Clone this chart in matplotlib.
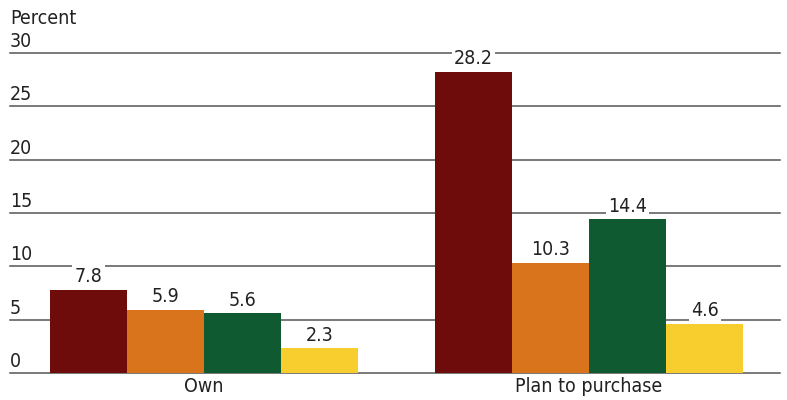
import numpy as np
import matplotlib.pyplot as plt
import matplotlib.transforms as mtransforms

plt.rcParams['font.family'] = ['DejaVu Sans']
plt.rcParams['font.stretch'] = 'condensed'

# Data
groups = ["Own", "Plan to purchase"]
series1 = [7.8, 28.2]
series2 = [5.9, 10.3]
series3 = [5.6, 14.4]
series4 = [2.3, 4.6]
yticks = [0, 5, 10, 15, 20, 25, 30]

colors = ["#6e0b0b", "#d9741c", "#0f5a30", "#f8cd2e"]
fs = 14

fig = plt.figure(figsize=(7.87, 4.0), dpi=100)
ax = fig.add_axes([10 / 787, 27 / 400, 770 / 787, 320 / 400])

x = np.arange(len(groups))
width = 0.2
offsets = [-1.5, -0.5, 0.5, 1.5]

# Gridlines
for t in yticks:
    ax.axhline(t, color="#555555", linewidth=1.1, zorder=1, clip_on=False)

# y tick labels sit on top of the gridlines
trans = mtransforms.blended_transform_factory(ax.transAxes, ax.transData)
for t in yticks:
    ax.text(0.0, t + 0.2, str(t), transform=trans, ha="left", va="bottom",
            fontsize=fs, color="#222222", zorder=3)

for vals, off, col in zip([series1, series2, series3, series4], offsets, colors):
    bars = ax.bar(x + off * width, vals, width=width, color=col, zorder=2)
    for b, v in zip(bars, vals):
        ax.text(b.get_x() + b.get_width() / 2, v + 0.35, f"{v}", ha="center",
                va="bottom", fontsize=fs, color="#222222", zorder=4,
                bbox=dict(facecolor="white", edgecolor="none", pad=1.5))

ax.set_xlim(-0.504, 1.496)
ax.set_ylim(0, 30)
ax.set_xticks(x)
ax.set_xticklabels(groups, fontsize=fs, color="#222222")
ax.tick_params(axis="x", length=0, pad=3)
ax.set_yticks([])
for s in ax.spines.values():
    s.set_visible(False)

fig.text(10 / 787, 1 - 18 / 400, "Percent", ha="left", va="center",
         fontsize=fs, color="#222222")

fig.savefig("out.png", dpi=100)
